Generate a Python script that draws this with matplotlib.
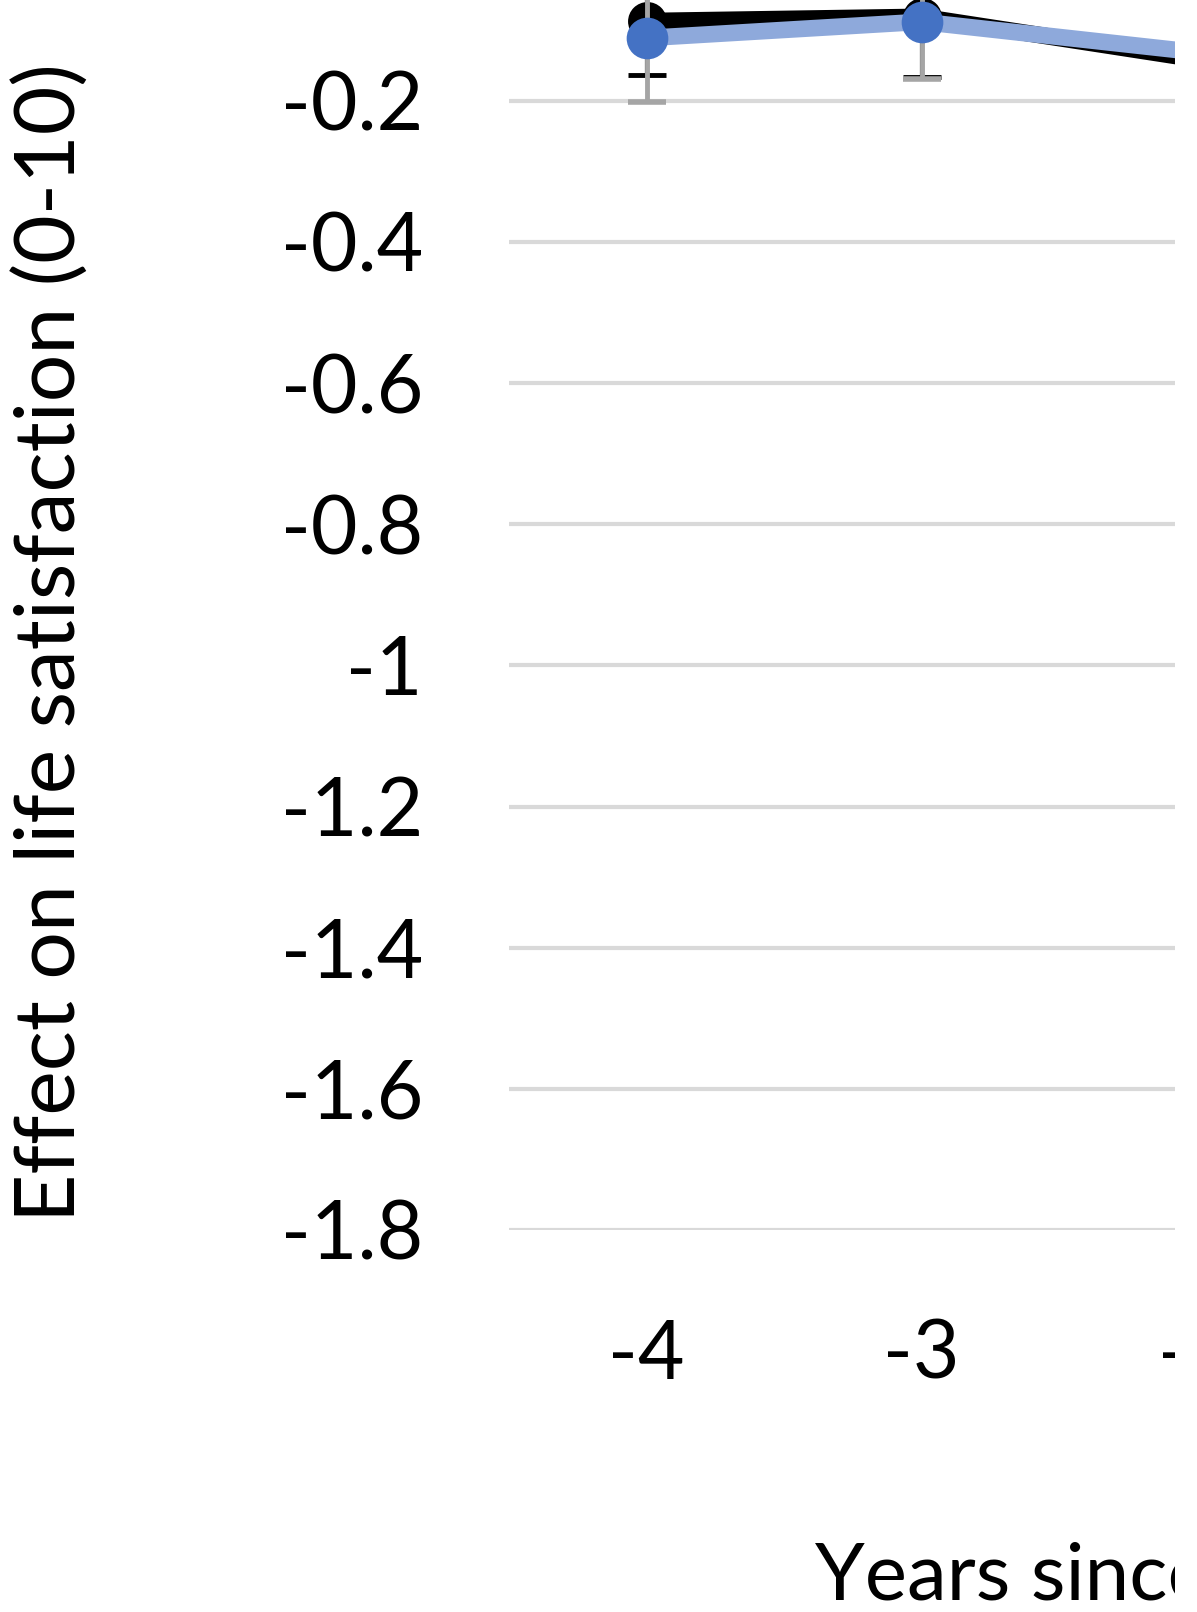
import matplotlib.pyplot as plt
from matplotlib.patches import Rectangle

# years relative to the event, effect estimates and half-widths of the error bars
years = [-4, -3, -2]
black_effect = [-0.087, -0.081, -0.141]
black_err = [0.077, 0.085, 0.079]
blue_effect = [-0.111, -0.088, -0.131]
blue_err = [0.091, 0.081, 0.080]

y_ticks = [-1.8, -1.6, -1.4, -1.2, -1.0, -0.8, -0.6, -0.4, -0.2]
y_labels = ['-1.8', '-1.6', '-1.4', '-1.2', '-1', '-0.8', '-0.6', '-0.4', '-0.2']

W, H = 1197, 1612
plt.rcParams['font.family'] = ['Lato', 'DejaVu Sans']
fig = plt.figure(figsize=(W / 100, H / 100), dpi=100)

# plot area runs past the right and top edges of the canvas
left, bottom = 509 / W, (H - 1230) / H
ax = fig.add_axes([left, bottom, 9 * 275 / W, (1230 + 40.3) / H])
ax.set_xlim(-4.5, 4.5)
ax.set_ylim(-1.8, 0.0)

ax.set_yticks(y_ticks)
ax.set_yticklabels(y_labels)
ax.set_xticks(years)
ax.set_xticklabels([str(y) for y in years])
ax.tick_params(length=0, labelsize=58, colors='black')
ax.tick_params(axis='y', pad=62)
ax.tick_params(axis='x', pad=64)
for s in ax.spines.values():
    s.set_visible(False)
ax.yaxis.grid(True, color='#D9D9D9', linewidth=3)
ax.set_axisbelow(True)

# black series
ax.errorbar(years, black_effect, yerr=black_err, fmt='none', ecolor='black',
            elinewidth=3, capsize=14, capthick=3.5, zorder=2)
ax.plot(years, black_effect, color='black', linewidth=12, marker='o',
        markersize=28, markerfacecolor='black', markeredgewidth=0, zorder=3)

# blue series
ax.errorbar(years, blue_effect, yerr=blue_err, fmt='none', ecolor='#A5A5A5',
            elinewidth=3.5, capsize=14, capthick=4, zorder=4)
ax.plot(years, blue_effect, color='#8EA9DB', linewidth=12, zorder=5,
        solid_capstyle='butt')
ax.plot(years, blue_effect, linestyle='none', marker='o', markersize=30,
        markerfacecolor='#4472C4', markeredgewidth=0, zorder=6)

fig.text(52 / W, (H - 643) / H, 'Effect on life satisfaction (0-10)', rotation=90,
         ha='center', va='center', fontsize=60.5)
fig.text(815 / W, (H - 1600) / H, 'Years since', ha='left', va='baseline',
         fontsize=57.5)

# everything right of this edge is cut away
fig.patches.append(Rectangle((1175 / W, 0), 1, 1, transform=fig.transFigure,
                             facecolor='white', edgecolor='none', zorder=10))

fig.savefig('out.png', dpi=100, facecolor='white')
